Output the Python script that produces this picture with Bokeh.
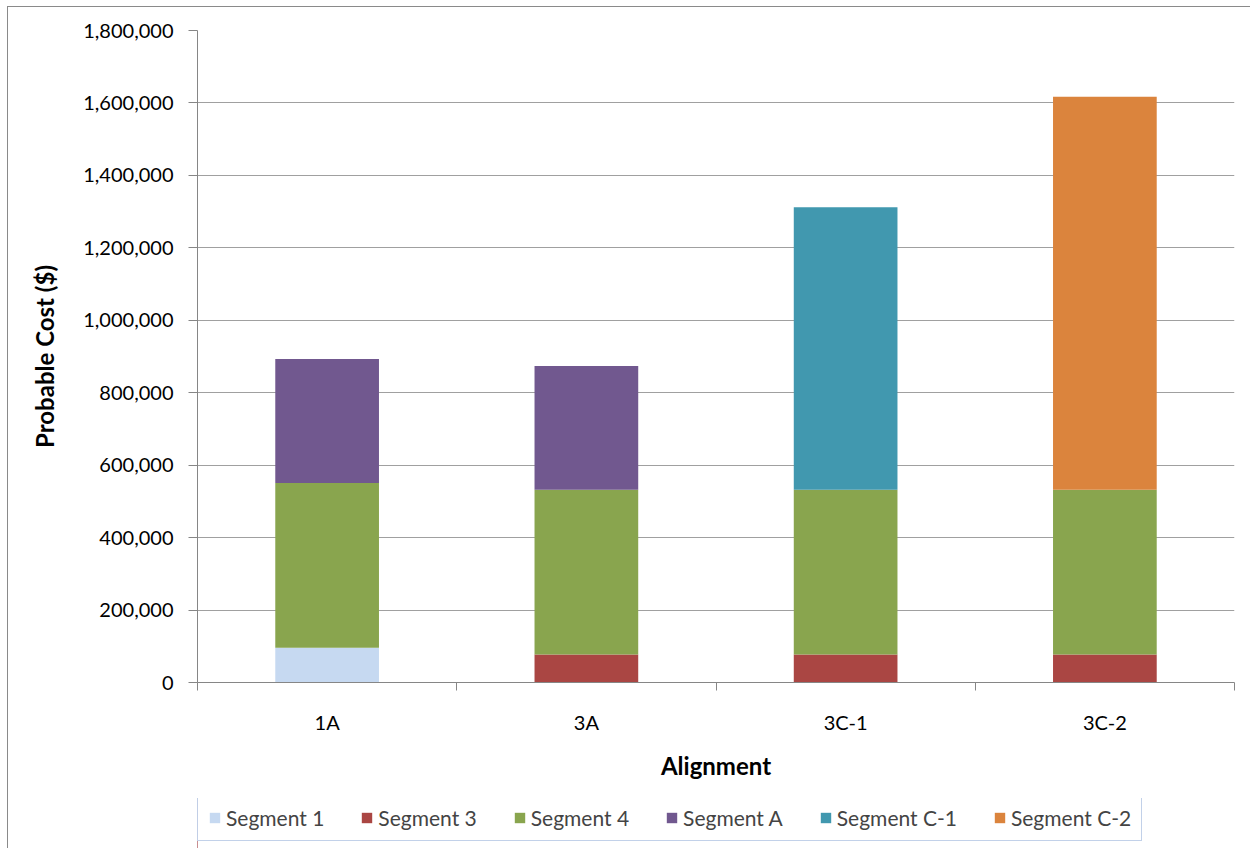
from bokeh.plotting import figure
from bokeh.layouts import column
from bokeh.models import (ColumnDataSource, FixedTicker, NumeralTickFormatter, Legend,
                          LegendItem, Range1d)
from bokeh.embed import file_html
from bokeh.resources import INLINE

categories = ["1A", "3A", "3C-1", "3C-2"]
segments = ["Segment 1", "Segment 3", "Segment 4", "Segment A", "Segment C-1", "Segment C-2"]
seg1 = [96000, 0, 0, 0]
seg3 = [0, 77000, 77000, 77000]
seg4 = [455000, 455000, 455000, 455000]
segA = [342000, 342000, 0, 0]
segC1 = [0, 0, 780000, 0]
segC2 = [0, 0, 0, 1085000]
colors = ["#C6D9F1", "#AA4643", "#89A54E", "#71588F", "#4198AF", "#DB843D"]
y_ticks = [0, 200000, 400000, 600000, 800000, 1000000, 1200000, 1400000, 1600000, 1800000]

FONT = "Lato"

xpos = [i + 0.5 for i in range(len(categories))]
data = {"x": xpos, "Segment 1": seg1, "Segment 3": seg3, "Segment 4": seg4,
        "Segment A": segA, "Segment C-1": segC1, "Segment C-2": segC2}
src = ColumnDataSource(data)

# ---------------- main chart ----------------
p = figure(width=1242, height=791, output_backend="svg", toolbar_location=None,
           x_range=Range1d(0, len(categories)), y_range=Range1d(0, 1800000),
           min_border_left=189, min_border_right=16, min_border_top=23,
           min_border_bottom=116)
p.outline_line_color = None
p.background_fill_color = "white"
p.border_fill_color = "white"

renderers = p.vbar_stack(segments, x="x", width=0.4, source=src, color=colors, line_color=None)

p.xaxis.ticker = FixedTicker(ticks=xpos, minor_ticks=list(range(len(categories) + 1)))
p.xaxis.major_label_overrides = {x: c for x, c in zip(xpos, categories)}
p.xaxis.major_tick_out = 0
p.xaxis.major_tick_in = 0
p.xaxis.minor_tick_out = 8
p.xaxis.minor_tick_in = 0
p.xaxis.minor_tick_line_color = "#868686"
p.xaxis.axis_line_color = "#868686"
p.xaxis.major_label_standoff = 19
p.xaxis.axis_label = "Alignment"
p.xaxis.axis_label_text_font_style = "bold"
p.xaxis.axis_label_text_font_size = "24px"
p.xaxis.axis_label_standoff = 14

p.yaxis.ticker = FixedTicker(ticks=y_ticks)
p.yaxis.formatter = NumeralTickFormatter(format="0,0")
p.yaxis.minor_tick_line_color = None
p.yaxis.major_tick_out = 9
p.yaxis.major_tick_in = 0
p.yaxis.major_tick_line_color = "#868686"
p.yaxis.axis_line_color = "#868686"
p.yaxis.major_label_standoff = 15
p.yaxis.axis_label = "Probable Cost ($)"
p.yaxis.axis_label_text_font_style = "bold"
p.yaxis.axis_label_text_font_size = "24px"
p.yaxis.axis_label_standoff = 21

for ax in (p.xaxis[0], p.yaxis[0]):
    ax.major_label_text_font = FONT
    ax.major_label_text_font_size = "20px"
    ax.major_label_text_color = "black"
    ax.axis_label_text_font = FONT
    ax.axis_label_text_color = "black"

p.xgrid.grid_line_color = None
p.ygrid.grid_line_color = "#A0A0A0"
p.ygrid.grid_line_width = 1
p.ygrid.ticker = FixedTicker(ticks=y_ticks)

# ---------------- legend strip ----------------
L = figure(width=1242, height=50, output_backend="svg", toolbar_location=None,
           x_range=Range1d(100, 101), y_range=Range1d(0, 1),
           min_border_left=0, min_border_right=0, min_border_top=0, min_border_bottom=0,
           x_axis_location=None, y_axis_location=None)
L.outline_line_color = None
L.xgrid.grid_line_color = None
L.ygrid.grid_line_color = None
L.border_fill_color = "white"
L.background_fill_color = "white"
leg_renderers = L.vbar_stack(segments, x="x", width=0.4, source=src, color=colors,
                             line_color=None)

items = [LegendItem(label=s, renderers=[r]) for s, r in zip(segments, leg_renderers)]
legend = Legend(items=items, orientation="horizontal", location=(0, 7),
                label_text_font=FONT, label_text_font_size="21px",
                glyph_width=13, glyph_height=13, label_standoff=5, spacing=36,
                padding=10, margin=0, border_line_color="#86A4D4", border_line_width=1.5,
                background_fill_color="white", label_height=20)
L.add_layout(legend, "center")

col = column(p, L, spacing=0)
col.styles = {"margin-left": "7px", "margin-top": "6px",
              "border-left": "1.5px solid #8a8a8a", "border-top": "1.5px solid #8a8a8a"}

open("out.html", "w").write(file_html(col, INLINE))
